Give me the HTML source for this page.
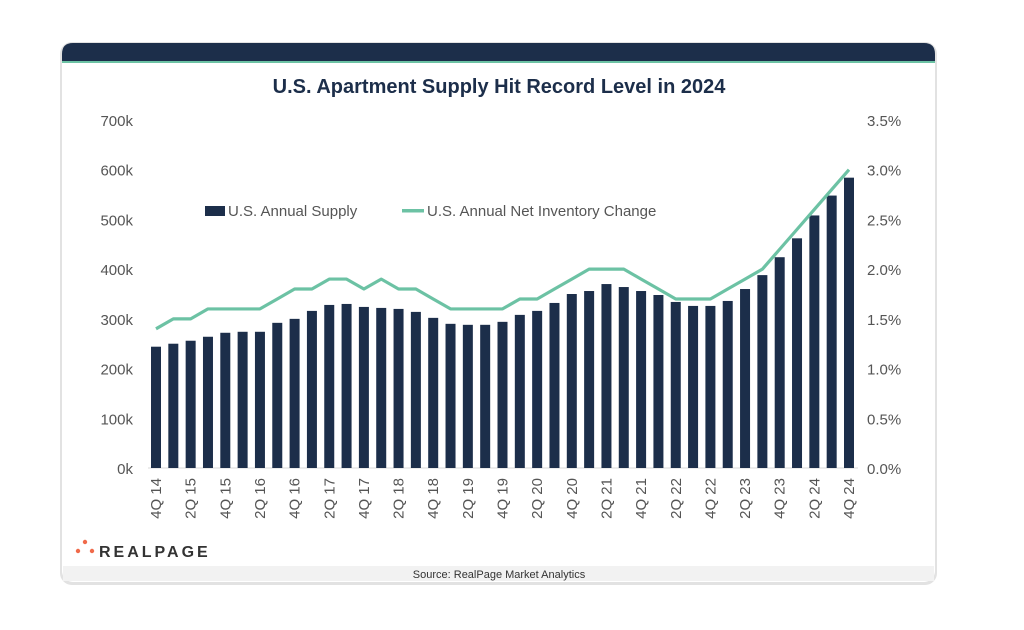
<!DOCTYPE html>
<html><head><meta charset="utf-8"><style>
body{margin:0;background:#fff;width:1024px;height:625px;overflow:hidden;font-family:"Liberation Sans",sans-serif}
</style></head><body>
<svg width="1024" height="625" viewBox="0 0 1024 625">
<rect x="60" y="42" width="877" height="543" rx="12" fill="#e2e2e2"/>
<rect x="62" y="43" width="873" height="539" rx="11" fill="#fff"/>
<path d="M62 61 V54 Q62 43 73 43 H924 Q935 43 935 54 V61 Z" fill="#1c2e4a"/>
<rect x="62" y="61" width="873" height="2" fill="#6cc2a4"/>
<rect x="63" y="566" width="871" height="15" fill="#f2f2f2"/>
<text x="499" y="93" text-anchor="middle" font-size="20" font-weight="bold" fill="#1c2e4a">U.S. Apartment Supply Hit Record Level in 2024</text>
<g id="axes"></g>
<g id="bars"></g>
<path id="line" fill="none" stroke="#6cc2a4" stroke-width="3.2" stroke-linejoin="round"/>
<g>
<rect x="205" y="206" width="20" height="10" fill="#1c2e4a"/>
<text x="228" y="216" font-size="15" fill="#555">U.S. Annual Supply</text>
<rect x="402" y="209" width="22" height="3.5" fill="#6cc2a4"/>
<text x="427" y="216" font-size="15" fill="#555">U.S. Annual Net Inventory Change</text>
</g>
<g>
<circle cx="85" cy="542" r="2.2" fill="#f06a4a"/><circle cx="78" cy="551" r="2.2" fill="#f06a4a"/><circle cx="92" cy="551" r="2.2" fill="#f06a4a"/>
<text x="99" y="557" font-size="16" font-weight="bold" letter-spacing="3" fill="#333">REALPAGE</text>
</g>
<text x="499" y="578" text-anchor="middle" font-size="11" fill="#333">Source: RealPage Market Analytics</text>
</svg>
<script>
const supply=[244,250,256,264,272,274,274,292,300,316,328,330,324,322,320,314,302,290,288,288,294,308,316,332,350,356,370,364,356,348,334,326,326,336,360,388,424,462,508,548,584];
const netPct=[1.4,1.5,1.5,1.6,1.6,1.6,1.6,1.7,1.8,1.8,1.9,1.9,1.8,1.9,1.8,1.8,1.7,1.6,1.6,1.6,1.6,1.7,1.7,1.8,1.9,2.0,2.0,2.0,1.9,1.8,1.7,1.7,1.7,1.8,1.9,2.0,2.2,2.4,2.6,2.8,3.0];
const leftTicks=["0k","100k","200k","300k","400k","500k","600k","700k"];
const rightTicks=["0.0%","0.5%","1.0%","1.5%","2.0%","2.5%","3.0%","3.5%"];
const quarters=["4Q 14","1Q 15","2Q 15","3Q 15","4Q 15","1Q 16","2Q 16","3Q 16","4Q 16","1Q 17","2Q 17","3Q 17","4Q 17","1Q 18","2Q 18","3Q 18","4Q 18","1Q 19","2Q 19","3Q 19","4Q 19","1Q 20","2Q 20","3Q 20","4Q 20","1Q 21","2Q 21","3Q 21","4Q 21","1Q 22","2Q 22","3Q 22","4Q 22","1Q 23","2Q 23","3Q 23","4Q 23","1Q 24","2Q 24","3Q 24","4Q 24"];
const NS="http://www.w3.org/2000/svg";
const y0=468,yTop=120;
const yL=v=>y0-v/700*(y0-yTop);
const yR=v=>y0-v/3.5*(y0-yTop);
const xC=i=>156+i*(849-156)/(quarters.length-1);
const axes=document.getElementById('axes'),bars=document.getElementById('bars');
function mk(t,a,p){const e=document.createElementNS(NS,t);for(const k in a)e.setAttribute(k,a[k]);p.appendChild(e);return e;}
const base=mk('line',{x1:148,x2:858,y1:y0,y2:y0,stroke:'#d9d9d9','stroke-width':1},axes);


leftTicks.forEach((t,i)=>{const e=mk('text',{x:133,y:yL(i*100)+6,'text-anchor':'end','font-size':15,fill:'#555'},axes);e.textContent=t;

});
rightTicks.forEach((t,i)=>{const e=mk('text',{x:867,y:yR(i*0.5)+6,'font-size':15,fill:'#555'},axes);e.textContent=t;

});
supply.forEach((v,i)=>{const r=mk('rect',{x:xC(i)-5,y:yL(v),width:10,height:y0-yL(v),fill:'#1c2e4a'},bars);

});
quarters.forEach((q,i)=>{if(i%2)return;const x=xC(i)+5,y=478;const e=mk('text',{x:x,y:y,'text-anchor':'end','font-size':15,fill:'#555',transform:`rotate(-90 ${x} ${y})`},axes);e.textContent=q;

});
document.getElementById('line').setAttribute('d',netPct.map((v,i)=>(i?'L':'M')+xC(i)+' '+yR(v)).join(' '));
</script>
</body></html>
